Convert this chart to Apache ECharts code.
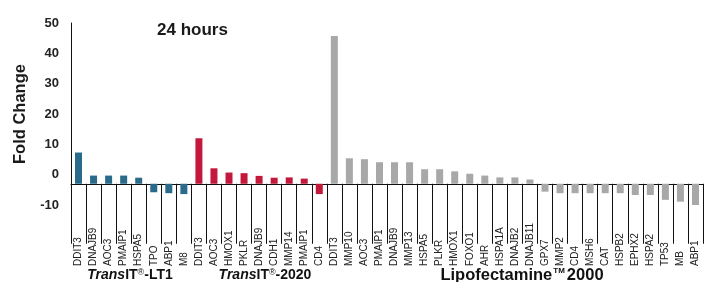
<!DOCTYPE html>
<html>
<head>
<meta charset="utf-8">
<script src="https://cdn.jsdelivr.net/npm/echarts@6/dist/echarts.min.js"></script>
<style>
html,body{margin:0;padding:0;background:#fff;}
#chart{width:713px;height:282px;}
</style>
</head>
<body>
<div id="chart"></div>
<script>
// ---- data ----
const lt1Genes = ['DDIT3','DNAJB9','AOC3','PMAIP1','HSPA5','TPO','ABP1','M8'];
const lt1Values = [10.3, 2.7, 2.7, 2.7, 2.0, -2.8, -3.1, -3.4];
const tr2020Genes = ['DDIT3','AOC3','HMOX1','PKLR','DNAJB9','CDH1','MMP14','PMAIP1','CD4'];
const tr2020Values = [15.0, 5.1, 3.7, 3.5, 2.6, 2.0, 2.1, 1.7, -3.4];
const lipoGenes = ['DDIT3','MMP10','AOC3','PMAIP1','DNAJB9','MMP13','HSPA5','PLKR','HMOX1','FOXO1','AHR','HSPA1A','DNAJB2','DNAJB11','GPX7','MMP2','CD4','MSH6','CAT','HSPB2','EPHX2','HSPA2','TP53','MB','ABP1'];
const lipoValues = [48.7, 8.4, 8.1, 7.1, 7.1, 7.1, 4.8, 4.8, 4.1, 3.3, 2.7, 2.1, 2.1, 1.4, -2.6, -3.1, -3.1, -3.1, -3.1, -3.1, -3.7, -3.7, -5.3, -5.9, -7.0];
const yTickMin = -10, yTickMax = 50, yTickStep = 10;
const baselineOffset = 3; // printed tick labels sit 3 units below the drawn zero line
const titleText = '24 hours';
const yAxisName = 'Fold Change';

// ---- build ----
const categories = [...lt1Genes, ...tr2020Genes, ...lipoGenes];
const n = categories.length;
function pad(vals, start){
  const arr = new Array(n).fill(null);
  vals.forEach((v,i)=>{arr[start+i]=v;});
  return arr;
}
const FONT = 'Liberation Sans, Arial, sans-serif';
const chart = echarts.init(document.getElementById('chart'), null, {renderer:'canvas'});
chart.setOption({
  animation:false,
  backgroundColor:'#ffffff',
  title:{
    text:titleText, left:157, top:22, padding:0,
    textStyle:{fontFamily:FONT, fontSize:17, fontWeight:'bold', color:'#1a1a1a'}
  },
  grid:{left:71, right:10, top:23, bottom:77, containLabel:false},
  xAxis:{
    type:'category', data:categories, boundaryGap:true,
    axisLine:{show:true, onZero:true, onZeroAxisIndex:1, lineStyle:{color:'#111', width:1}},
    axisTick:{show:true, interval:0, length:60, inside:false, lineStyle:{color:'#111', width:1}},
    axisLabel:{interval:0, rotate:90, align:'left', verticalAlign:'middle', margin:61,
      fontFamily:FONT, fontSize:10, color:'#222'}
  },
  yAxis:[
    {type:'value', min:yTickMin, max:yTickMax, interval:yTickStep,
     name:yAxisName, nameLocation:'middle', nameRotate:90, nameGap:42,
     nameTextStyle:{fontFamily:FONT, fontSize:16.5, fontWeight:'bold', color:'#1a1a1a'},
     axisLine:{show:true, lineStyle:{color:'#111', width:1}},
     axisTick:{show:false}, splitLine:{show:false},
     axisLabel:{margin:12, fontFamily:FONT, fontSize:13, fontWeight:'bold', color:'#222'}
    },
    {type:'value', show:false, min:yTickMin+baselineOffset, max:yTickMax+baselineOffset,
     splitLine:{show:false}}
  ],
  series:[
    {type:'bar', name:'TransIT-LT1', yAxisIndex:1, data:pad(lt1Values,0),
     barWidth:7, barGap:'-100%', itemStyle:{color:'#2a6b8c'}},
    {type:'bar', name:'TransIT-2020', yAxisIndex:1, data:pad(tr2020Values,lt1Genes.length),
     barWidth:7, barGap:'-100%', itemStyle:{color:'#c3183c'}},
    {type:'bar', name:'Lipofectamine 2000', yAxisIndex:1, data:pad(lipoValues,lt1Genes.length+tr2020Genes.length),
     barWidth:7, barGap:'-100%', itemStyle:{color:'#a8a8a8'}}
  ],
  graphic:[
    {type:'text', x:130, y:275, style:{
      text:'{i|Trans}{b|IT}{s|®}{b|-LT1}', align:'center', verticalAlign:'middle', fill:'#111',
      rich:{
        i:{fontFamily:FONT, fontSize:14, fontWeight:'bold', fontStyle:'italic'},
        b:{fontFamily:FONT, fontSize:14, fontWeight:'bold'},
        s:{fontFamily:FONT, fontSize:9, verticalAlign:'top'}
      }}},
    {type:'text', x:265, y:275, style:{
      text:'{i|Trans}{b|IT}{s|®}{b|-2020}', align:'center', verticalAlign:'middle', fill:'#111',
      rich:{
        i:{fontFamily:FONT, fontSize:14, fontWeight:'bold', fontStyle:'italic'},
        b:{fontFamily:FONT, fontSize:14, fontWeight:'bold'},
        s:{fontFamily:FONT, fontSize:9, verticalAlign:'top'}
      }}},
    {type:'text', x:522, y:275, style:{
      text:'{b|Lipofectamine}{s|TM}{b|2000}', align:'center', verticalAlign:'middle', fill:'#111',
      rich:{
        b:{fontFamily:FONT, fontSize:16.5, fontWeight:'bold'},
        s:{fontFamily:FONT, fontSize:8, fontWeight:'bold', verticalAlign:'top', padding:[0,2,0,1]}
      }}}
  ]
});
</script>
</body>
</html>
